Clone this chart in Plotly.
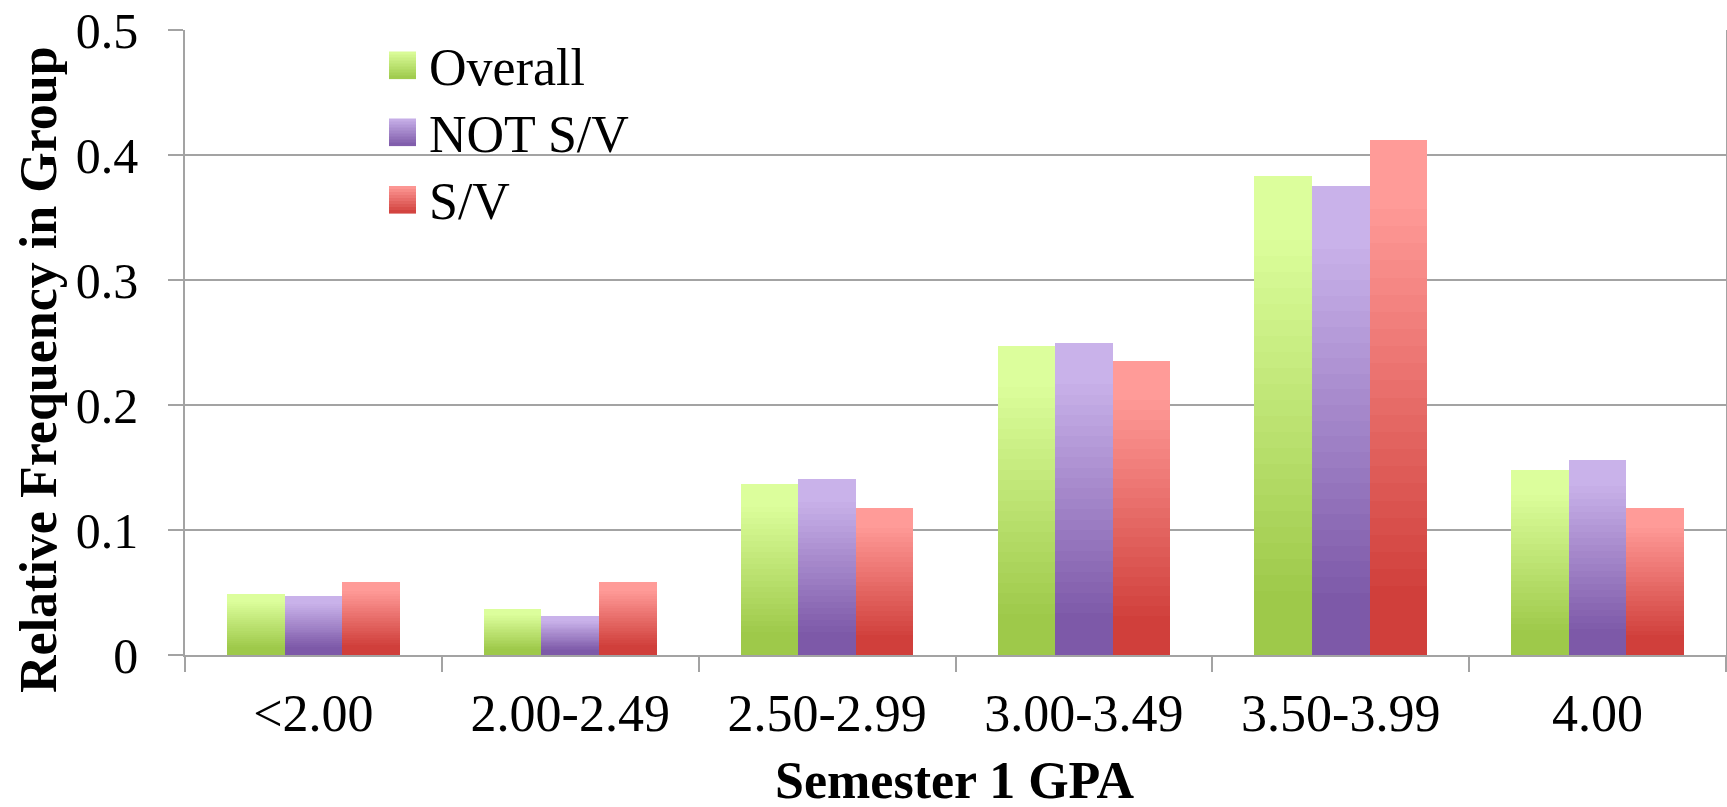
import plotly.graph_objects as go

categories = ["<2.00", "2.00-2.49", "2.50-2.99", "3.00-3.49", "3.50-3.99", "4.00"]
series_names = ["Overall", "NOT S/V", "S/V"]
overall = [0.049, 0.037, 0.137, 0.247, 0.383, 0.148]
not_sv = [0.047, 0.031, 0.141, 0.250, 0.375, 0.156]
sv = [0.0588, 0.0588, 0.1176, 0.2353, 0.4118, 0.1176]
y_tick_vals = [0, 0.1, 0.2, 0.3, 0.4, 0.5]
y_tick_text = ["0", "0.1", "0.2", "0.3", "0.4", "0.5"]
x_title = "Semester 1 GPA"
y_title = "Relative Frequency in Group"

series_values = [overall, not_sv, sv]
# gradient (top color, bottom color) per series
grad = [("#dcfe9c", "#9ec94a"), ("#c9b2ea", "#7d59a8"), ("#ff9b98", "#d03f3b")]

W, H = 1727, 807
L, R, T, B = 185, 1, 30, 152
PW, PH = W - L - R, H - T - B
FONT = "Liberation Serif, Times New Roman, serif"


def hex2rgb(h):
    h = h.lstrip("#")
    return tuple(int(h[i:i + 2], 16) for i in (0, 2, 4))


def mix(c1, c2, t):
    a, b = hex2rgb(c1), hex2rgb(c2)
    return "rgb(%d,%d,%d)" % tuple(round(a[i] + (b[i] - a[i]) * t) for i in range(3))


def grad_t(frac_from_top):
    lo, hi = 0.12, 0.88
    t = (frac_from_top - lo) / (hi - lo)
    return min(1.0, max(0.0, t))


K = 30
bar_w = 0.224
offsets = [-0.336, -0.112, 0.112]

fig = go.Figure()
for s, vals in enumerate(series_values):
    top, bot = grad[s]
    for k in range(K):
        f = 1 - k / K
        color = mix(top, bot, grad_t((k + 0.5) / K))
        fig.add_trace(go.Bar(
            x=categories, y=[v * f for v in vals],
            width=bar_w, offset=offsets[s],
            marker=dict(color=color, line=dict(width=0)),
            showlegend=False, name=series_names[s], hoverinfo="skip",
        ))


def px_x(x):
    return (x - L) / PW


def px_y(y):
    return (H - B - y) / PH


shapes = []
annotations = []
legend_rows = [65, 132, 199.5]
sw = 27
for s, name in enumerate(series_names):
    top, bot = grad[s]
    cy = legend_rows[s]
    n = 9
    for j in range(n):
        y0 = cy - sw / 2 + j * sw / n
        y1 = cy - sw / 2 + (j + 1) * sw / n + 0.6
        shapes.append(dict(type="rect", xref="paper", yref="paper",
                           x0=px_x(389), x1=px_x(389 + sw), y0=px_y(y1), y1=px_y(y0),
                           fillcolor=mix(top, bot, (j + 0.5) / n), line=dict(width=0), layer="above"))
    annotations.append(dict(text=name, xref="paper", yref="paper", x=px_x(427), y=px_y(cy + 2),
                            xanchor="left", yanchor="middle", showarrow=False,
                            font=dict(family=FONT, size=52, color="black")))

annotations.append(dict(text="<b>%s</b>" % y_title, xref="paper", yref="paper",
                        x=px_x(38), y=px_y(370), textangle=-90, xanchor="center", yanchor="middle",
                        showarrow=False, font=dict(family=FONT, size=52, color="black")))
annotations.append(dict(text="<b>%s</b>" % x_title, xref="paper", yref="paper",
                        x=px_x(955), y=px_y(780), xanchor="center", yanchor="middle",
                        showarrow=False, font=dict(family=FONT, size=52, color="black")))

grid_c = "#a3a3a3"
fig.update_layout(
    width=W, height=H, margin=dict(l=L, r=R, t=T, b=B, autoexpand=False),
    barmode="overlay", bargap=0, plot_bgcolor="white", paper_bgcolor="white",
    showlegend=False, shapes=shapes, annotations=annotations,
    font=dict(family=FONT, color="black"),
)
fig.update_xaxes(
    type="category", categoryorder="array", categoryarray=categories,
    showline=True, linecolor=grid_c, linewidth=1.5, mirror=False,
    ticks="outside", tickson="boundaries", ticklen=15, tickcolor=grid_c, tickwidth=1.5,
    tickfont=dict(family=FONT, size=52, color="black"), ticklabelstandoff=12,
    showgrid=False, range=[-0.5, len(categories) - 0.5],
)
fig.update_yaxes(
    range=[0, 0.5], tickvals=y_tick_vals, ticktext=y_tick_text,
    showline=True, linecolor=grid_c, linewidth=1.5, mirror=True,
    ticks="outside", ticklen=15, tickcolor=grid_c, tickwidth=1.5,
    tickfont=dict(family=FONT, size=50, color="black"), ticklabelstandoff=20,
    showgrid=True, gridcolor=grid_c, gridwidth=1.5, zeroline=False,
)

fig.write_html(
    "out.html",
    config={"displayModeBar": False},
    post_script="document.body.style.margin='0';document.body.style.overflow='hidden';",
)
